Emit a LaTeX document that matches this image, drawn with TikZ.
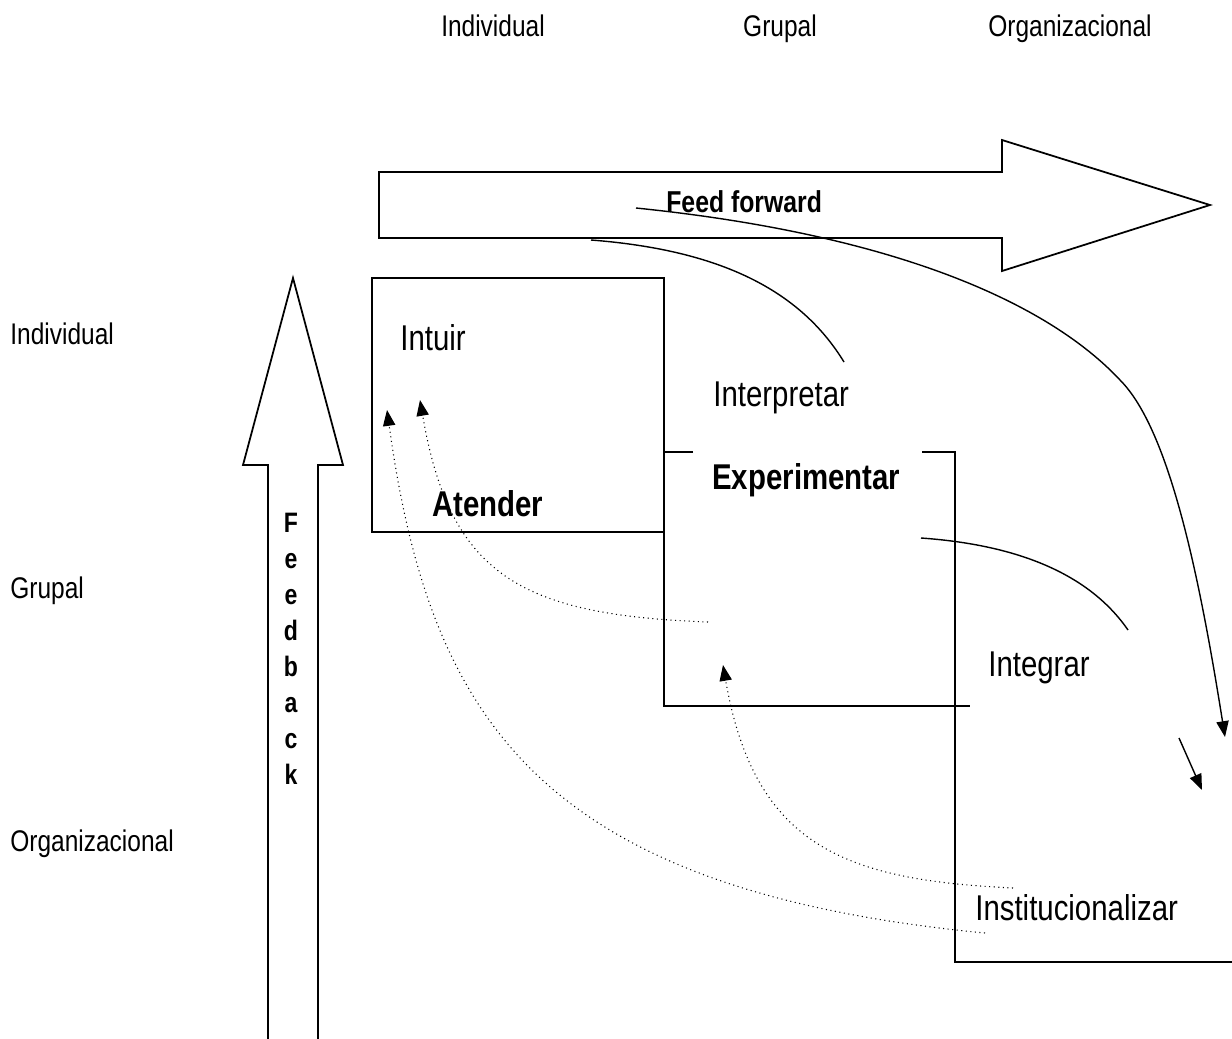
\documentclass[tikz,border=0pt]{standalone}
\usepackage{fontspec}
\setmainfont{Liberation Sans}[FakeStretch=0.82]
\usetikzlibrary{arrows.meta}

\tikzset{%
  level label/.style={
    anchor=base west,
    inner sep=0pt,
    font=\fontsize{17}{20}\selectfont
  },
  process/.style={
    anchor=base west,
    inner sep=0pt,
    font=\fontsize{20.4}{24}\selectfont
  },
  process bold/.style={
    process,
    font=\fontsize{20.4}{24}\selectfont\bfseries
  },
  flow line/.style={
    line width=0.8pt
  },
  back line/.style={
    dotted,
    line width=0.6pt,
    -{Triangle[length=9pt,width=7pt]}
  },
  big arrow/.style={
    line width=1pt,
    line join=miter
  },
}

\begin{document}
\begin{tikzpicture}[x=0.02cm,y=-0.02cm]
\useasboundingbox (0,0) rectangle (1232,1039);

% niveles
\node[level label,anchor=base] (top ind) at (493,36) {Individual};
\node[level label,anchor=base] (top gru) at (780,36) {Grupal};
\node[level label,anchor=base] (top org) at (1070,36) {Organizacional};
\node[level label] (side ind) at (10,344) {Individual};
\node[level label] (side gru) at (10,598) {Grupal};
\node[level label] (side org) at (10,851) {Organizacional};

% flechas grandes
\draw[big arrow] (379,172) -- (1002,172) -- (1002,140) -- (1210,205)
  -- (1002,271) -- (1002,238) -- (379,238) -- cycle;
\node[anchor=base west,inner sep=0pt,font=\fontsize{17.2}{20}\selectfont\bfseries]
  (ff) at (666,212) {Feed forward};
\draw[big arrow] (268,1039) -- (268,465) -- (243,465) -- (293,278)
  -- (343,465) -- (318,465) -- (318,1039);
\foreach \letra [count=\i] in {F,e,e,d,b,a,c,k}
  \node[anchor=base,inner sep=0pt,font=\fontsize{16}{19}\selectfont\bfseries]
    (fb\i) at (291,{532+36*(\i-1)}) {\letra};

% cajas
\draw[big arrow] (372,278) rectangle (664,532);
\draw[big arrow] (664,532) -- (664,706) -- (970,706);
\draw[big arrow] (693,452) -- (664,452);
\draw[big arrow] (922,452) -- (955,452) -- (955,962) -- (1232,962);

% procesos
\node[process] (intuir) at (400,350) {Intuir};
\node[process] (interpretar) at (713,406) {Interpretar};
\node[process bold] (experimentar) at (712,489) {Experimentar};
\node[process bold] (atender) at (432,516) {Atender};
\node[process] (integrar) at (988,676) {Integrar};
\node[process] (institucionalizar) at (975,920) {Institucionalizar};

% feed forward
\coordinate (int a) at (591,240);
\coordinate (int b) at (844,362);
\draw[flow line] (int a) .. controls (720,250) and (800,290) .. (int b);
\coordinate (itg a) at (921,538);
\coordinate (itg b) at (1128,630);
\draw[flow line] (itg a) .. controls (1020,545) and (1090,575) .. (itg b);
\coordinate (ffw a) at (636,208);
\coordinate (ffw b) at (1225,737);
\draw[flow line,-{Triangle[length=9pt,width=7pt]}] (ffw a)
  .. controls (900,235) and (1050,305) .. (1120,380)
  .. controls (1170,430) and (1200,580) .. (ffw b);
\coordinate (ins a) at (1179,738);
\coordinate (ins b) at (1202,790);
\draw[flow line,-{Triangle[length=9pt,width=7pt]}] (ins a) -- (ins b);

% feedback
\coordinate (exp fb) at (708,622);
\coordinate (ate tip) at (420,400);
\draw[back line] (exp fb) .. controls (520,615) and (450,575) .. (ate tip);
\coordinate (ins fb1) at (1013,888);
\coordinate (exp tip) at (723,665);
\draw[back line] (ins fb1) .. controls (850,880) and (755,850) .. (exp tip);
\coordinate (ins fb2) at (985,933);
\coordinate (int tip) at (387,410);
\draw[back line] (ins fb2) .. controls (540,890) and (430,720) .. (int tip);
\end{tikzpicture}
\end{document}
